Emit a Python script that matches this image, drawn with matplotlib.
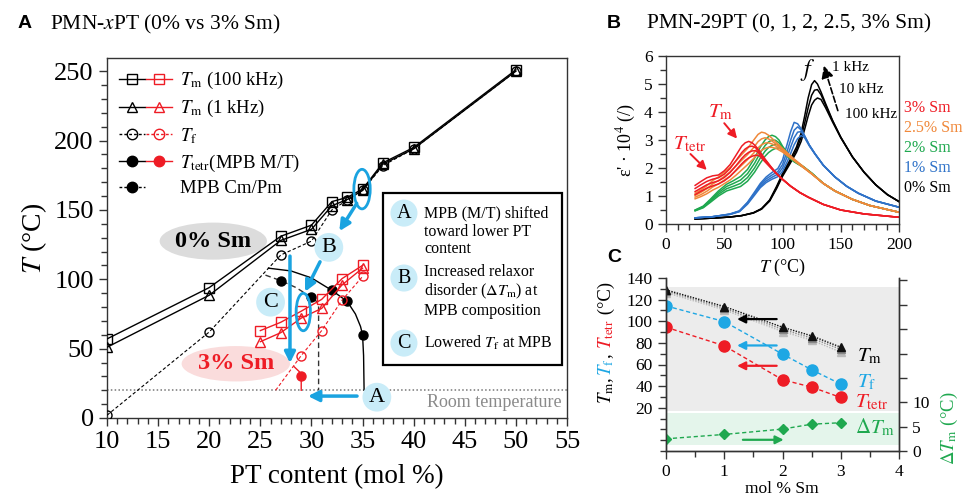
import matplotlib.pyplot as plt
from matplotlib.patches import Ellipse, Rectangle
from matplotlib.lines import Line2D
from matplotlib.legend_handler import HandlerTuple
from matplotlib.ticker import MultipleLocator, FixedLocator

plt.rcParams['font.family'] = ['Liberation Serif', 'DejaVu Serif']
plt.rcParams['mathtext.fontset'] = 'stix'

RED = '#ee1c25'
CYAN = '#1aa3e0'
BUBBLE = '#c9ecf8'

# ---------------- panel A data (PMN-xPT) ----------------
pt_0 = [10, 20, 27, 30, 32, 33.5, 35, 37, 40, 50]
tm100_0 = [57, 94, 131, 139, 156, 159, 165, 184, 195, 251]
tm1_0 = [51, 88.5, 128, 136, 153, 157.5, 164, 183, 194, 250]
tf_0 = [2, 62, 117.5, 127.5, 150, 157, 164, 182, 194, 250]

tetr_x_0 = [32, 33.5, 35]
tetr_y_0 = [92, 84, 60]
cmpm_x_0 = [27, 30]
cmpm_y_0 = [99, 87]
# guide lines for the phase boundaries
tetr_line_x = [25.8, 28, 30, 32, 33.5, 34.3, 34.8, 35, 35.1, 35.15]
tetr_line_y = [108, 106, 101, 92, 84, 75, 66, 60, 45, 20]
cmpm_line_x = [25.5, 27, 28.5, 30, 30.5, 30.7, 30.7]
cmpm_line_y = [103, 99, 94, 87, 84, 80, 20]

pt_3 = [25, 27, 29, 31, 33, 35]
tm100_3 = [63, 69, 77, 85.5, 100.5, 110]
tm1_3 = [55, 61.5, 72, 79, 96, 108]
tf_x_3 = [29, 31, 33, 35]
tf_y_3 = [45, 63, 85, 102]
tf_line_x_3 = [26.5, 29, 31, 33, 35]
tf_line_y_3 = [20, 45, 63, 85, 102]
tetr_x_3 = [29]
tetr_y_3 = [30]
tetr_line_x_3 = [28.3, 28.8, 29, 29]
tetr_line_y_3 = [37, 33.5, 30, 20]

# ---------------- panel B data (PMN-29PT permittivity) ----------------
t_0sm = [25, 40, 55, 65, 75, 82, 89, 95, 100, 106, 112, 116, 119, 122, 125, 127.5,
         130, 133, 137, 143, 150, 160, 170, 180, 190, 200]
eps_0sm = [
    [0.18, 0.21, 0.25, 0.30, 0.40, 0.55, 0.86, 1.35, 1.8, 2.25, 2.75, 3.25, 3.85, 4.5,
     4.98, 5.12, 5.0, 4.72, 4.3, 3.7, 3.1, 2.4, 1.85, 1.4, 1.05, 0.8],
    [0.18, 0.21, 0.25, 0.30, 0.40, 0.54, 0.84, 1.31, 1.75, 2.18, 2.65, 3.1, 3.6, 4.15,
     4.6, 4.78, 4.80, 4.62, 4.25, 3.68, 3.1, 2.4, 1.85, 1.4, 1.05, 0.8],
    [0.18, 0.21, 0.25, 0.30, 0.39, 0.53, 0.82, 1.27, 1.70, 2.12, 2.56, 2.95, 3.38, 3.85,
     4.25, 4.42, 4.50, 4.45, 4.15, 3.64, 3.08, 2.4, 1.85, 1.4, 1.05, 0.8],
]
t_1sm = [25, 40, 55, 63, 70, 76, 81, 86, 91, 96, 100, 104, 107, 110, 113, 116, 119,
         123, 128, 135, 145, 155, 165, 180, 200]
eps_1sm = [
    [0.22, 0.26, 0.36, 0.47, 0.78, 1.14, 1.45, 1.68, 1.84, 1.98, 2.28, 2.85, 3.3, 3.63,
     3.58, 3.4, 3.15, 2.82, 2.5, 2.1, 1.68, 1.35, 1.1, 0.82, 0.6],
    [0.22, 0.26, 0.35, 0.46, 0.76, 1.10, 1.40, 1.61, 1.75, 1.87, 2.12, 2.6, 3.0, 3.35,
     3.47, 3.36, 3.14, 2.82, 2.5, 2.1, 1.68, 1.35, 1.1, 0.82, 0.6],
    [0.22, 0.26, 0.35, 0.45, 0.74, 1.07, 1.35, 1.54, 1.67, 1.78, 2.0, 2.40, 2.75, 3.08,
     3.28, 3.30, 3.12, 2.81, 2.5, 2.1, 1.68, 1.35, 1.1, 0.82, 0.6],
    [0.22, 0.26, 0.34, 0.44, 0.71, 1.03, 1.30, 1.48, 1.60, 1.69, 1.88, 2.22, 2.52, 2.83,
     3.05, 3.16, 3.08, 2.79, 2.49, 2.1, 1.68, 1.35, 1.1, 0.82, 0.6],
]
t_2sm = [25, 32, 38, 45, 52, 58, 64, 70, 76, 81, 85, 88, 91, 94, 97, 100, 104, 110,
         118, 125, 135, 145, 160, 175, 200]
eps_2sm = [
    [0.50, 0.64, 0.88, 1.18, 1.42, 1.55, 1.70, 1.95, 2.35, 2.75, 3.00, 3.12, 3.17, 3.12,
     3.00, 2.78, 2.55, 2.28, 2.05, 1.82, 1.45, 1.18, 0.88, 0.66, 0.42],
    [0.49, 0.62, 0.85, 1.12, 1.34, 1.45, 1.57, 1.80, 2.17, 2.55, 2.80, 2.93, 3.00, 2.99,
     2.90, 2.74, 2.50, 2.26, 2.04, 1.82, 1.45, 1.18, 0.88, 0.66, 0.42],
    [0.48, 0.60, 0.81, 1.06, 1.26, 1.35, 1.45, 1.66, 2.00, 2.36, 2.60, 2.73, 2.81, 2.85,
     2.81, 2.70, 2.46, 2.24, 2.03, 1.81, 1.45, 1.18, 0.88, 0.66, 0.42],
    [0.47, 0.58, 0.77, 1.00, 1.18, 1.26, 1.34, 1.53, 1.85, 2.18, 2.42, 2.55, 2.64, 2.70,
     2.72, 2.64, 2.42, 2.22, 2.02, 1.81, 1.45, 1.18, 0.88, 0.66, 0.42],
]
t_25sm = [25, 30, 35, 40, 45, 50, 55, 60, 65, 70, 75, 79, 82, 85, 88, 91, 95, 100,
          110, 125, 135, 145, 160, 175, 200]
eps_25sm = [
    [1.10, 1.22, 1.36, 1.55, 1.68, 1.85, 2.02, 2.25, 2.48, 2.70, 2.98, 3.20, 3.28, 3.25,
     3.17, 3.06, 2.90, 2.70, 2.32, 1.80, 1.45, 1.18, 0.88, 0.66, 0.42],
    [1.02, 1.13, 1.26, 1.43, 1.55, 1.70, 1.86, 2.07, 2.28, 2.48, 2.72, 2.94, 3.04, 3.08,
     3.04, 2.96, 2.84, 2.66, 2.30, 1.80, 1.45, 1.18, 0.88, 0.66, 0.42],
    [0.96, 1.05, 1.17, 1.32, 1.43, 1.57, 1.71, 1.90, 2.10, 2.30, 2.52, 2.72, 2.83, 2.89,
     2.90, 2.86, 2.77, 2.62, 2.28, 1.79, 1.45, 1.18, 0.88, 0.66, 0.42],
    [0.90, 0.98, 1.08, 1.21, 1.31, 1.44, 1.57, 1.74, 1.93, 2.12, 2.33, 2.52, 2.63, 2.70,
     2.74, 2.74, 2.69, 2.57, 2.26, 1.79, 1.45, 1.18, 0.88, 0.66, 0.42],
]
t_3sm = [25, 30, 35, 40, 45, 50, 55, 60, 65, 68, 71, 74, 77, 80, 85, 90, 95, 100,
         107, 115, 122, 135, 150, 170, 200]
eps_3sm = [
    [1.38, 1.52, 1.65, 1.72, 1.75, 1.90, 2.12, 2.45, 2.78, 2.90, 2.95, 2.90, 2.78, 2.62,
     2.32, 2.05, 1.80, 1.60, 1.35, 1.12, 0.96, 0.70, 0.50, 0.36, 0.24],
    [1.27, 1.40, 1.52, 1.60, 1.65, 1.78, 1.98, 2.26, 2.55, 2.68, 2.76, 2.78, 2.72, 2.58,
     2.30, 2.04, 1.80, 1.60, 1.35, 1.12, 0.96, 0.70, 0.50, 0.36, 0.24],
    [1.16, 1.28, 1.40, 1.48, 1.54, 1.66, 1.84, 2.08, 2.34, 2.47, 2.56, 2.61, 2.62, 2.52,
     2.27, 2.02, 1.79, 1.60, 1.35, 1.12, 0.96, 0.70, 0.50, 0.36, 0.24],
    [1.05, 1.17, 1.28, 1.36, 1.43, 1.54, 1.70, 1.92, 2.15, 2.27, 2.36, 2.42, 2.46, 2.44,
     2.22, 2.00, 1.78, 1.59, 1.35, 1.12, 0.96, 0.70, 0.50, 0.36, 0.24],
]
sm_labels = ['3% Sm', '2.5% Sm', '2% Sm', '1% Sm', '0% Sm']
sm_colors = [RED, '#f0883a', '#1fa84f', '#2f72c8', 'black']

# ---------------- panel C data (vs Sm content) ----------------
sm = [0, 1, 2, 2.5, 3]
tm_1k = [129, 113.6, 94.5, 86.5, 76]
tm_10k = [128, 112, 92.5, 84.5, 74]
tm_100k = [126.5, 110.5, 90.5, 82.5, 71.5]
tf_c = [114.2, 99.7, 69.6, 55.1, 41.9]
ttetr_c = [94.5, 77.3, 45.9, 39.1, 29.5]
dtm_c = [2.5, 3.4, 4.5, 5.5, 5.8]

W, H = 964, 496
fig = plt.figure(figsize=(W / 100, H / 100), dpi=100)


def box(l, t, r, b):
    return [l / W, 1 - b / H, (r - l) / W, (b - t) / H]


def style_ticks(ax, size):
    ax.tick_params(which='both', direction='out', labelsize=size, width=1, color='#333333')
    ax.tick_params(which='major', length=6)
    ax.tick_params(which='minor', length=4)
    for s in ax.spines.values():
        s.set_color('#333333')
        s.set_linewidth(1)


# ======================= panel A =======================
axA = fig.add_axes(box(107, 58, 567, 418))
axA.set_xlim(10, 55)
axA.set_ylim(0, 259.5)
axA.xaxis.set_major_locator(MultipleLocator(5))
axA.xaxis.set_minor_locator(MultipleLocator(1))
axA.yaxis.set_major_locator(MultipleLocator(50))
axA.yaxis.set_minor_locator(MultipleLocator(10))
style_ticks(axA, 19)
axA.set_xlabel('PT content (mol %)', fontsize=19.5, labelpad=8)
axA.set_ylabel(r'$T$ (°C)', fontsize=20, labelpad=4)

axA.axhline(20, color='#777777', ls=(0, (1, 1.5)), lw=1.1, zorder=1)
axA.text(54.5, 17, 'Room temperature', color='#8a8a8a', fontsize=13,
         ha='right', va='top')

axA.add_patch(Ellipse((20.4, 127.5), 10.5, 26.7, fc='#dcdcdc', ec='none', zorder=0))
axA.text(20.4, 127.5, '0% Sm', fontsize=17.5, fontweight='bold', ha='center', va='center')
axA.add_patch(Ellipse((22.6, 39.1), 10.6, 25.5, fc='#fadcdc', ec='none', zorder=0))
axA.text(22.6, 39.1, '3% Sm', fontsize=17.5, fontweight='bold', color=RED,
         ha='center', va='center')

ms = 7.5
axA.plot(pt_0, tm100_0, color='k', marker='s', mfc='none', lw=1, ms=ms, zorder=3)
axA.plot(pt_0, tm1_0, color='k', marker='^', mfc='none', lw=1, ms=ms, zorder=3)
axA.plot(pt_0, tf_0, color='k', marker='o', mfc='none', lw=0.8, ms=6.5,
         ls=(0, (3, 2)), zorder=3)
axA.plot(tetr_line_x, tetr_line_y, color='k', lw=1, zorder=2)
axA.plot(tetr_x_0, tetr_y_0, 'o', color='k', ms=6.5, zorder=3)
axA.plot(cmpm_line_x, cmpm_line_y, color='#333333', lw=1, ls=(0, (4, 2.5)), zorder=2)
axA.plot(cmpm_x_0, cmpm_y_0, 'o', color='k', ms=6.5, zorder=3)

axA.plot(pt_3, tm100_3, color=RED, marker='s', mfc='none', lw=1, ms=ms, zorder=3)
axA.plot(pt_3, tm1_3, color=RED, marker='^', mfc='none', lw=1, ms=ms, zorder=3)
axA.plot(tf_line_x_3, tf_line_y_3, color=RED, lw=0.8, ls=(0, (3, 2)), zorder=2)
axA.plot(tf_x_3, tf_y_3, 'o', color=RED, mfc='none', ms=6.5, zorder=3)
axA.plot(tetr_line_x_3, tetr_line_y_3, color=RED, lw=1, zorder=2)
axA.plot(tetr_x_3, tetr_y_3, 'o', color=RED, ms=6.5, zorder=3)


# legend (black / red pairs)
def h(col, mk, ls='-', fill='none'):
    return Line2D([], [], color=col, marker=mk, ls=ls, mfc=fill, lw=1, ms=ms)


handles = [
    (h('k', 's'), h(RED, 's')),
    (h('k', '^'), h(RED, '^')),
    (h('k', 'o', (0, (2, 1.5))), h(RED, 'o', (0, (2, 1.5)))),
    (h('k', 'o', '-', 'k'), h(RED, 'o', '-', RED)),
    (h('k', 'o', (0, (2, 1.5)), 'k'), Line2D([], [], ls='none')),
]
labels = [r'$T_\mathrm{m}$ (100 kHz)', r'$T_\mathrm{m}$ (1 kHz)', r'$T_\mathrm{f}$',
          r'$T_\mathrm{tetr}$(MPB M/T)', 'MPB Cm/Pm']
axA.legend(handles, labels, loc='upper left', bbox_to_anchor=(0.0, 1.0),
           frameon=False, fontsize=13.5, handlelength=2.8, handletextpad=0.45,
           labelspacing=0.36, borderaxespad=0.25,
           handler_map={tuple: HandlerTuple(ndivide=None, pad=0.05)})

# blue annotations
axA.add_patch(Ellipse((34.95, 165), 1.6, 28.5, fc='none', ec=CYAN, lw=2, zorder=4))
axA.add_patch(Ellipse((29.2, 76.4), 1.4, 27, fc='none', ec=CYAN, lw=2, zorder=4))
arrow = dict(arrowstyle='-|>', color=CYAN, lw=2.5, mutation_scale=16, shrinkA=0, shrinkB=0)
axA.annotate('', xy=(32.73, 134.7), xytext=(34.43, 154.7), arrowprops=arrow)
axA.annotate('', xy=(29.37, 91), xytext=(30.84, 112.6), arrowprops=arrow)
axA.annotate('', xy=(27.9, 39.6), xytext=(27.9, 116.7), arrowprops=arrow)
axA.annotate('', xy=(29.66, 15.8), xytext=(34.46, 15.8), arrowprops=arrow)

bubble = dict(boxstyle='circle,pad=0.22', fc=BUBBLE, ec='none')
for letter, x, y in [('A', 36.4, 15), ('B', 31.7, 123), ('C', 26.0, 83.5)]:
    axA.text(x, y, letter, fontsize=16, ha='center', va='center', bbox=bubble, zorder=5)

# explanation box
axA.add_patch(Rectangle((37.0, 38.2), 17.5, 123.9, fc='white', ec='k', lw=1.6, zorder=5))
small_bubble = dict(boxstyle='circle,pad=0.2', fc=BUBBLE, ec='none')
notes = [('A', 147.7, 'MPB (M/T) shifted\ntoward lower PT\ncontent', 134.4),
         ('B', 100.9, 'Increased relaxor\ndisorder ' + r'($\Delta T_\mathrm{m}$)'
          + ' at\nMPB composition', 91.0),
         ('C', 54.0, r'Lowered $T_\mathrm{f}$ at MPB', 54.0)]
for letter, yc, txt, yt in notes:
    axA.text(39.05, yc, letter, fontsize=14.5, ha='center', va='center',
             bbox=small_bubble, zorder=6)
    axA.text(41.0, yt, txt, fontsize=11.5, ha='left', va='center',
             linespacing=1.15, zorder=6)

fig.text(18 / W, 1 - 24 / H, 'A', fontsize=14, fontweight='bold',
         family='Liberation Sans', va='center')
fig.text(50 / W, 1 - 24 / H, r'PMN-$x$PT (0% vs 3% Sm)', fontsize=15.5, va='center')

# ======================= panel B =======================
axB = fig.add_axes(box(666, 56, 899, 224))
axB.set_xlim(0, 200)
axB.set_ylim(0, 6)
axB.xaxis.set_major_locator(MultipleLocator(50))
axB.xaxis.set_minor_locator(MultipleLocator(10))
axB.yaxis.set_major_locator(MultipleLocator(1))
axB.yaxis.set_minor_locator(MultipleLocator(0.5))
style_ticks(axB, 12.5)
axB.set_xlabel(r'$T$ (°C)', fontsize=13, labelpad=3)
axB.set_ylabel("ε' · 10$^4$ (/)", fontsize=13, labelpad=4)

series_b = [(t_0sm, eps_0sm, 'black'), (t_1sm, eps_1sm, '#2f72c8'),
            (t_2sm, eps_2sm, '#1fa84f'), (t_25sm, eps_25sm, '#f0883a'),
            (t_3sm, eps_3sm, RED)]
for t, strands, col in series_b:
    for e in strands:
        axB.plot(t, e, color=col, lw=1.1)

red_arrow = dict(arrowstyle='-|>', color=RED, lw=1.4, mutation_scale=13, shrinkA=0, shrinkB=0)
axB.annotate('', xy=(61, 3.05), xytext=(50, 3.6), arrowprops=red_arrow)
axB.annotate('', xy=(35, 1.93), xytext=(21, 2.5), arrowprops=red_arrow)
axB.text(47, 4.0, r'$T_\mathrm{m}$', color=RED, fontsize=15, ha='center', va='center')
axB.text(20, 2.85, r'$T_\mathrm{tetr}$', color=RED, fontsize=15, ha='center', va='center')

axB.annotate('', xy=(135.5, 5.65), xytext=(147.5, 4.05),
             arrowprops=dict(arrowstyle='-|>', color='k', lw=1.2, ls='--',
                             mutation_scale=18, shrinkA=0, shrinkB=0))
axB.text(122, 5.5, r'$f$', fontsize=17, ha='center', va='center')
axB.text(142.5, 5.6, '1 kHz', fontsize=11, va='center')
axB.text(148.5, 4.8, '10 kHz', fontsize=11, va='center')
axB.text(153.5, 3.9, '100 kHz', fontsize=11, va='center')

for i, (lab, col) in enumerate(zip(sm_labels, sm_colors)):
    fig.text(904 / W, 1 - (108 + 20 * i) / H, lab, color=col, fontsize=11.5, va='center')

fig.text(607 / W, 1 - 24 / H, 'B', fontsize=14, fontweight='bold',
         family='Liberation Sans', va='center')
fig.text(647 / W, 1 - 24 / H, 'PMN-29PT (0, 1, 2, 2.5, 3% Sm)', fontsize=15.5, va='center')

# ======================= panel C =======================
axC = fig.add_axes(box(666, 278, 899, 451))
axC.set_xlim(0, 4)
axC.set_ylim(-20, 140)
axC.xaxis.set_major_locator(MultipleLocator(1))
axC.xaxis.set_minor_locator(MultipleLocator(0.5))
axC.yaxis.set_major_locator(FixedLocator([20, 40, 60, 80, 100, 120, 140]))
axC.yaxis.set_minor_locator(FixedLocator([-20, -10, 0, 10, 30, 50, 70, 90, 110, 130]))
style_ticks(axC, 12.5)
axC.spines['top'].set_visible(False)
axC.axhspan(16.6, 131.5, color='#ececec', lw=0, zorder=0)
axC.axhspan(-14.2, 15.2, color='#e4f5eb', lw=0, zorder=0)

axC.plot(sm, tm_100k, color='#bbbbbb', marker='^', ls=(0, (1, 1)), lw=1, ms=6)
axC.plot(sm, tm_10k, color='#888888', marker='^', ls=(0, (1, 1)), lw=1, ms=6)
axC.plot(sm, tm_1k, color='#111111', marker='^', ls=(0, (1, 1)), lw=1, ms=6)
axC.plot(sm, tf_c, color='#1ea7e4', marker='o', ls=(0, (3, 2)), lw=1, ms=8)
axC.plot(sm, ttetr_c, color=RED, marker='o', ls=(0, (3, 2)), lw=1, ms=8)


def left_arrow(y, col):
    axC.annotate('', xy=(1.22, y), xytext=(1.9, y),
                 arrowprops=dict(arrowstyle='-|>', color=col, lw=1.6,
                                 mutation_scale=12, shrinkA=0, shrinkB=0))


left_arrow(102, 'k')
left_arrow(77.6, '#1ea7e4')
left_arrow(58.8, RED)
axC.text(3.28, 67, r'$T_\mathrm{m}$', fontsize=15, va='center')
axC.text(3.28, 43, r'$T_\mathrm{f}$', fontsize=15, color='#1ea7e4', va='center')
axC.text(3.25, 24.5, r'$T_\mathrm{tetr}$', fontsize=15, color=RED, va='center')

axC2 = axC.twinx()
axC2.set_ylim(0, 35.5)
axC2.yaxis.set_major_locator(MultipleLocator(5))
style_ticks(axC2, 12.5)
axC2.spines['top'].set_visible(False)
axC2.yaxis.set_major_formatter(plt.FuncFormatter(lambda v, p: f'{v:.0f}' if v <= 10 else ''))
axC2.plot(sm, dtm_c, color='#1fa84f', marker='D', ls=(0, (3, 2)), lw=1, ms=5.5)
axC2.annotate('', xy=(2.02, 2.3), xytext=(1.32, 2.3),
              arrowprops=dict(arrowstyle='-|>', color='#1fa84f', lw=1.6,
                              mutation_scale=12, shrinkA=0, shrinkB=0))
axC2.text(3.25, 4.9, r'$\Delta T_\mathrm{m}$', fontsize=15, color='#1fa84f', va='center')
fig.text(949 / W, 1 - 428 / H, r'$\Delta T_\mathrm{m}$ (°C)', color='#1fa84f',
         fontsize=13.5, rotation=90, ha='center', va='center')

fig.text(782 / W, 1 - 489 / H, 'mol % Sm', fontsize=12.5, ha='center', va='center')

# multi-coloured left label, stacked bottom-up
pieces = [(r'$T_\mathrm{m}$, ', 'k'), (r'$T_\mathrm{f}$', '#1ea7e4'), (', ', 'k'),
          (r'$T_\mathrm{tetr}$', RED), (' (°C)', 'k')]
prev = fig.text(606 / W, 1 - 404 / H, pieces[0][0], color=pieces[0][1], fontsize=13.5,
                rotation=90, ha='center', va='bottom')
for txt, col in pieces[1:]:
    prev = axC.annotate(txt, xy=(0.5, 1), xycoords=prev, color=col, fontsize=13.5,
                        rotation=90, ha='center', va='bottom', annotation_clip=False)

fig.text(607 / W, 1 - 257 / H, 'C', fontsize=14, fontweight='bold',
         family='Liberation Sans', va='center')

fig.savefig('out.png', dpi=100)
